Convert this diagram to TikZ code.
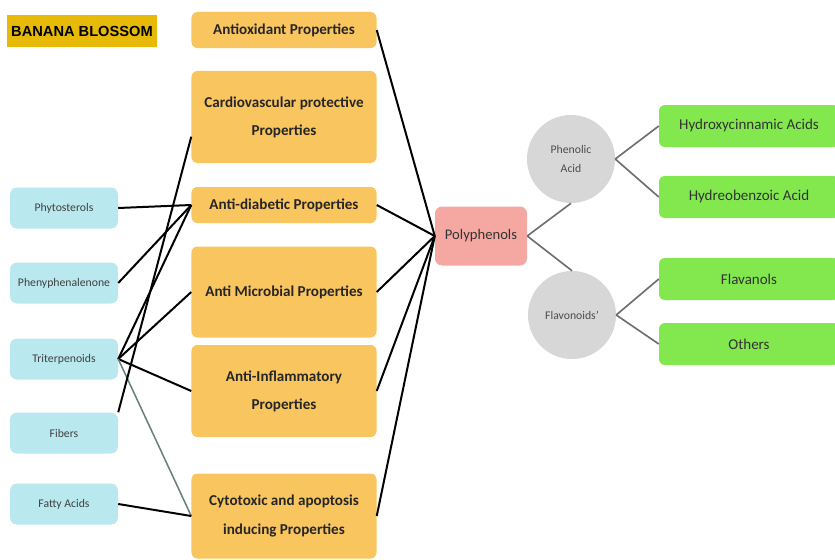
\documentclass[tikz,border=0pt]{standalone}
\usepackage{fontspec}
\setmainfont{Carlito}
\newfontfamily\arialfont{Liberation Sans}
\usepackage{tikz}
\usetikzlibrary{positioning,calc}

\definecolor{propcol}{HTML}{F9C55E}
\definecolor{srccol}{HTML}{B9E8EE}
\definecolor{polycol}{HTML}{F5A7A1}
\definecolor{classcol}{HTML}{D7D7D7}
\definecolor{leafcol}{HTML}{82E84E}
\definecolor{titlecol}{HTML}{E8BA08}
\definecolor{linkgrey}{HTML}{6E6E6E}
\definecolor{tergrey}{HTML}{66807E}

\begin{document}
\begin{tikzpicture}[x=0.03cm, y=-0.03cm,
    prop box/.style={fill=propcol, rounded corners=5pt, minimum width=5.55cm, align=center,
        font=\fontsize{12.9}{24}\selectfont\bfseries, text=black!85},
    src box/.style={fill=srccol, rounded corners=6pt, minimum width=3.24cm, minimum height=1.23cm,
        font=\fontsize{10}{12}\selectfont, text=black!75},
    class circ/.style={circle, fill=classcol, minimum size=2.64cm, align=center,
        font=\fontsize{10}{17}\selectfont, text=black!70},
    leaf box/.style={fill=leafcol, rounded corners=5pt, minimum width=5.4cm, minimum height=1.26cm,
        font=\fontsize{12.8}{14}\selectfont, text=black!80},
    link/.style={line width=1.7pt, black},
    sublink/.style={line width=1.4pt, linkgrey}]
    \useasboundingbox (0,0) rectangle (835,560);

    \node[fill=titlecol, minimum width=4.41cm, minimum height=0.96cm,
        font=\arialfont\bfseries\fontsize{12.5}{14}\selectfont] (title) at (82,31) {BANANA BLOSSOM};

    \node[prop box, minimum height=1.08cm] (antiox) at (284,30) {Antioxidant Properties};
    \node[prop box, minimum height=2.76cm] (cardio) at (284,117) {Cardiovascular protective\\Properties};
    \node[prop box, minimum height=1.08cm] (diab) at (284,205) {Anti-diabetic Properties};
    \node[prop box, minimum height=2.73cm] (micro) at (284,292) {Anti Microbial Properties};
    \node[prop box, minimum height=2.76cm] (inflam) at (284,391) {Anti-Inflammatory\\Properties};
    \node[prop box, minimum height=2.55cm] (cyto) at (284,516) {Cytotoxic and apoptosis\\inducing Properties};

    \node[src box] (phyto) at (64,208) {Phytosterols};
    \node[src box] (pheny) at (64,283) {Phenyphenalenone};
    \node[src box] (triter) at (64,359) {Triterpenoids};
    \node[src box] (fiber) at (64,433) {Fibers};
    \node[src box] (fatty) at (64,504) {Fatty Acids};

    \node[fill=polycol, rounded corners=6pt, minimum width=2.76cm, minimum height=1.77cm,
        font=\fontsize{12.5}{14}\selectfont, text=black!80] (poly) at (481,236) {Polyphenols};

    \node[class circ] (phenolic) at (571,159) {Phenolic\\Acid};
    \node[class circ] (flavo) at (572,315) {Flavonoids'};

    \node[leaf box] (hydroxy) at (749,126) {Hydroxycinnamic Acids};
    \node[leaf box] (hydreo) at (749,197) {Hydreobenzoic Acid};
    \node[leaf box] (flavan) at (749,279) {Flavanols};
    \node[leaf box] (others) at (749,344) {Others};

    \draw[link] (phyto.east) -- (diab.west);
    \draw[link] (pheny.east) -- (diab.west);
    \draw[link] (triter.east) -- (diab.west);
    \draw[link] (triter.east) -- (micro.west);
    \draw[link] (triter.east) -- (inflam.west);
    \draw[line width=1.3pt, tergrey] (triter.east) -- (cyto.west);
    \draw[link] (fiber.north east) -- (cardio.192);
    \draw[link] (fatty.east) -- (cyto.west);

    \draw[link] (antiox.east) -- (poly.west);
    \draw[link] (diab.east) -- (poly.west);
    \draw[link] (micro.east) -- (poly.west);
    \draw[link] (inflam.east) -- (poly.west);
    \draw[link] (cyto.east) -- (poly.west);

    \draw[sublink] (poly.east) -- (phenolic.south);
    \draw[sublink] (poly.east) -- (flavo.north);
    \draw[sublink] (phenolic.east) -- (hydroxy.west);
    \draw[sublink] (phenolic.east) -- (hydreo.west);
    \draw[sublink] (flavo.east) -- (flavan.west);
    \draw[sublink] (flavo.east) -- (others.west);
\end{tikzpicture}
\end{document}
